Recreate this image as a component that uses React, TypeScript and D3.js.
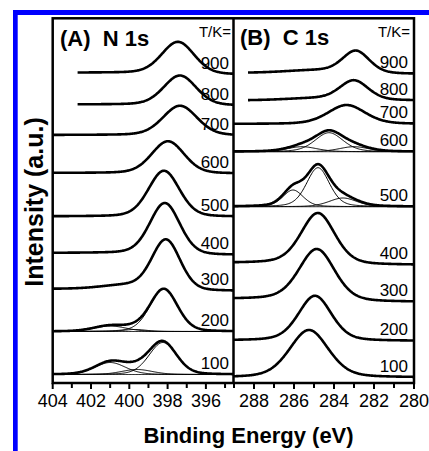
import React from 'react';
import * as d3 from 'd3';

// ---------- data ----------
const temps = [900, 800, 700, 600, 500, 400, 300, 200, 100];

// N 1s panel: baseline level (a.u., low-BE side), background rise on high-BE side, start energy
const nBase = [308.5, 277.5, 247.5, 209.5, 166.3, 128, 92, 51.5, 8.5];
const nStep = [1.8, 1, 0.5, 0.5, 0.3, 2, 2, 0, 0];
const nStart = [402.7, 402.7, 404, 404, 404, 404, 404, 404, 404];
// peaks: [centre eV, height a.u., FWHM eV]
const nPeaks: number[][][] = [
  [[397.45, 31.8, 2.0]],
  [[397.35, 29.5, 2.0]],
  [[397.35, 29.5, 2.1]],
  [[397.98, 32, 2.0]],
  [[398.19, 45.8, 1.9]],
  [[398.14, 51, 1.85]],
  [[398.08, 50, 1.75], [400.3, 3.5, 2.8]],
  [[398.2, 42.5, 1.7], [401.0, 5.5, 2.0], [399.7, 2.0, 1.4]],
  [[398.25, 32, 1.7], [401.0, 12, 1.9], [399.6, 5, 1.9]],
];
const nFitted = [false, false, false, false, false, false, false, true, true];

// C 1s panel
const cBase = [309, 282.5, 259, 231.3, 176.3, 118, 81, 42, 5.5];
const cStep = [1.0, 0, 0, 0, 0, 2, 3, 0.5, 0];
const cStart = [288.3, 288.3, 289, 289, 289, 289, 289, 289, 289];
const cPeaks: number[][][] = [
  [[282.9, 22, 1.6], [285.0, 2.5, 3.5]],
  [[283.0, 19.5, 1.7], [285.0, 2, 3.5]],
  [[283.37, 19, 2.2]],
  [[284.25, 19, 1.65], [285.6, 5, 1.75], [283.0, 5, 1.75]],
  [[284.8, 39, 1.35], [286.05, 16.7, 1.2], [283.55, 8.7, 1.65]],
  [[284.8, 51, 2.0]],
  [[284.85, 51.5, 2.1]],
  [[284.95, 45, 1.95]],
  [[285.25, 47.5, 2.3]],
];
const cFitted = [false, false, false, true, true, false, false, false, false];

const nMajor = [404, 402, 400, 398, 396];
const nMinor = [403, 401, 399, 397, 395];
const cMajor = [288, 286, 284, 282, 280];
const cMinor = [289, 287, 285, 283, 281];

// ---------- layout ----------
const W = 429, H = 451;
const X0 = 52.7, XM = 233.5, X1 = 414, YT = 18.3, YB = 383;
const FONT = '"Liberation Sans", Arial, Helvetica, sans-serif';

const xN = d3.scaleLinear().domain([404, 404 - (XM - X0) / 19.15]).range([X0, XM]);
const xC = d3.scaleLinear().domain([280 + (X1 - XM) / 20, 280]).range([XM, X1]);
const y = d3.scaleLinear().domain([0, 365]).range([YB, 18]);

function pv(E: number, p: number[], eta: number) {
  const [c, h, w] = p;
  const u = (E - c) * (E - c) / (w * w);
  return h * ((1 - eta) * Math.exp(-4 * Math.LN2 * u) + eta / (1 + 4 * u));
}
function bg(E: number, base: number, step: number, p: number[]) {
  return base + step / (1 + Math.exp(-(E - p[0]) / (p[2] / 3)));
}
function grid(start: number, end: number) {
  const out: number[] = [];
  for (let e = start; e >= end - 1e-9; e -= 0.04) out.push(e);
  return out;
}

type Panel = {
  x: d3.ScaleLinear<number, number>;
  base: number[]; step: number[]; start: number[]; peaks: number[][][]; fitted: boolean[];
  eta: number;
};

function Spectra({ x, base, step, start, peaks, fitted, eta }: Panel) {
  const end = x.domain()[1];
  const line = d3.line<[number, number]>().x(d => x(d[0])).y(d => y(d[1])).curve(d3.curveLinear);
  return (
    <g>
      {temps.map((t, i) => {
        const Es = grid(start[i], end);
        const env: [number, number][] = Es.map(E => [E, bg(E, base[i], step[i], peaks[i][0]) + peaks[i].reduce((s, p) => s + pv(E, p, eta), 0)]);
        return (
          <g key={t}>
            {fitted[i] && (
              <>
                <path d={line(Es.map(E => [E, bg(E, base[i], step[i], peaks[i][0])]))!} fill="none" stroke="#000" strokeWidth={1} />
                {peaks[i].map((p, k) => (
                  <path key={k} d={line(Es.map(E => [E, bg(E, base[i], step[i], peaks[i][0]) + pv(E, p, eta)]))!} fill="none" stroke="#000" strokeWidth={1} />
                ))}
              </>
            )}
            <path d={line(env)!} fill="none" stroke="#000" strokeWidth={2.6} strokeLinejoin="round" />
          </g>
        );
      })}
    </g>
  );
}

function Labels({ base, xr }: { base: number[]; xr: number }) {
  return (
    <g fontFamily={FONT} fontSize={17} textAnchor="end">
      {temps.map((t, i) => (
        <text key={t} x={xr} y={y(base[i]) - 6}>{t}</text>
      ))}
    </g>
  );
}

function Ticks({ x, major, minor }: { x: d3.ScaleLinear<number, number>; major: number[]; minor: number[] }) {
  return (
    <g>
      {major.map(v => <line key={'M' + v} x1={x(v)} x2={x(v)} y1={YB} y2={YB + 6} stroke="#000" strokeWidth={2} />)}
      {minor.map(v => <line key={'m' + v} x1={x(v)} x2={x(v)} y1={YB} y2={YB + 5} stroke="#000" strokeWidth={2} />)}
      {major.map(v => (
        <text key={'t' + v} x={x(v)} y={406.5} fontFamily={FONT} fontSize={18} textAnchor="middle">{v}</text>
      ))}
    </g>
  );
}

export default function App() {
  return (
    <svg width={W} height={H} style={{ position: 'absolute', left: 0, top: 0, background: '#fff' }}>
      <defs>
        <clipPath id="clipN"><rect x={X0} y={YT} width={XM - X0} height={YB - YT} /></clipPath>
        <clipPath id="clipC"><rect x={XM} y={YT} width={X1 - XM} height={YB - YT} /></clipPath>
      </defs>
      <rect x={0} y={0} width={W} height={H} fill="#fff" />
      {/* blue frame */}
      <rect x={13} y={10} width={W - 13} height={5} fill="#0000ff" />
      <rect x={13} y={10} width={4.7} height={H - 10} fill="#0000ff" />

      <g clipPath="url(#clipN)">
        <Spectra x={xN} base={nBase} step={nStep} start={nStart} peaks={nPeaks} fitted={nFitted} eta={0.2} />
      </g>
      <g clipPath="url(#clipC)">
        <Spectra x={xC} base={cBase} step={cStep} start={cStart} peaks={cPeaks} fitted={cFitted} eta={0.3} />
      </g>

      <Labels base={nBase} xr={229} />
      <Labels base={cBase} xr={408} />

      <rect x={X0} y={YT} width={X1 - X0} height={YB - YT} fill="none" stroke="#000" strokeWidth={2.5} />
      <line x1={XM} x2={XM} y1={YT} y2={YB} stroke="#000" strokeWidth={2.5} />

      <Ticks x={xN} major={nMajor} minor={nMinor} />
      <Ticks x={xC} major={cMajor} minor={cMinor} />

      <text x={60} y={46} fontFamily={FONT} fontWeight="bold" fontSize={22}>(A)&#160;&#160;N 1s</text>
      <text x={240} y={45} fontFamily={FONT} fontWeight="bold" fontSize={22}>(B)&#160;&#160;C 1s</text>
      <text x={231} y={37} fontFamily={FONT} fontSize={15} textAnchor="end">T/K=</text>
      <text x={410} y={37} fontFamily={FONT} fontSize={15} textAnchor="end">T/K=</text>

      <text transform="translate(43,202) rotate(-90)" fontFamily={FONT} fontWeight="bold" fontSize={25} textAnchor="middle">Intensity (a.u.)</text>
      <text x={248.5} y={443} fontFamily={FONT} fontWeight="bold" fontSize={22} textAnchor="middle">Binding Energy (eV)</text>
    </svg>
  );
}
